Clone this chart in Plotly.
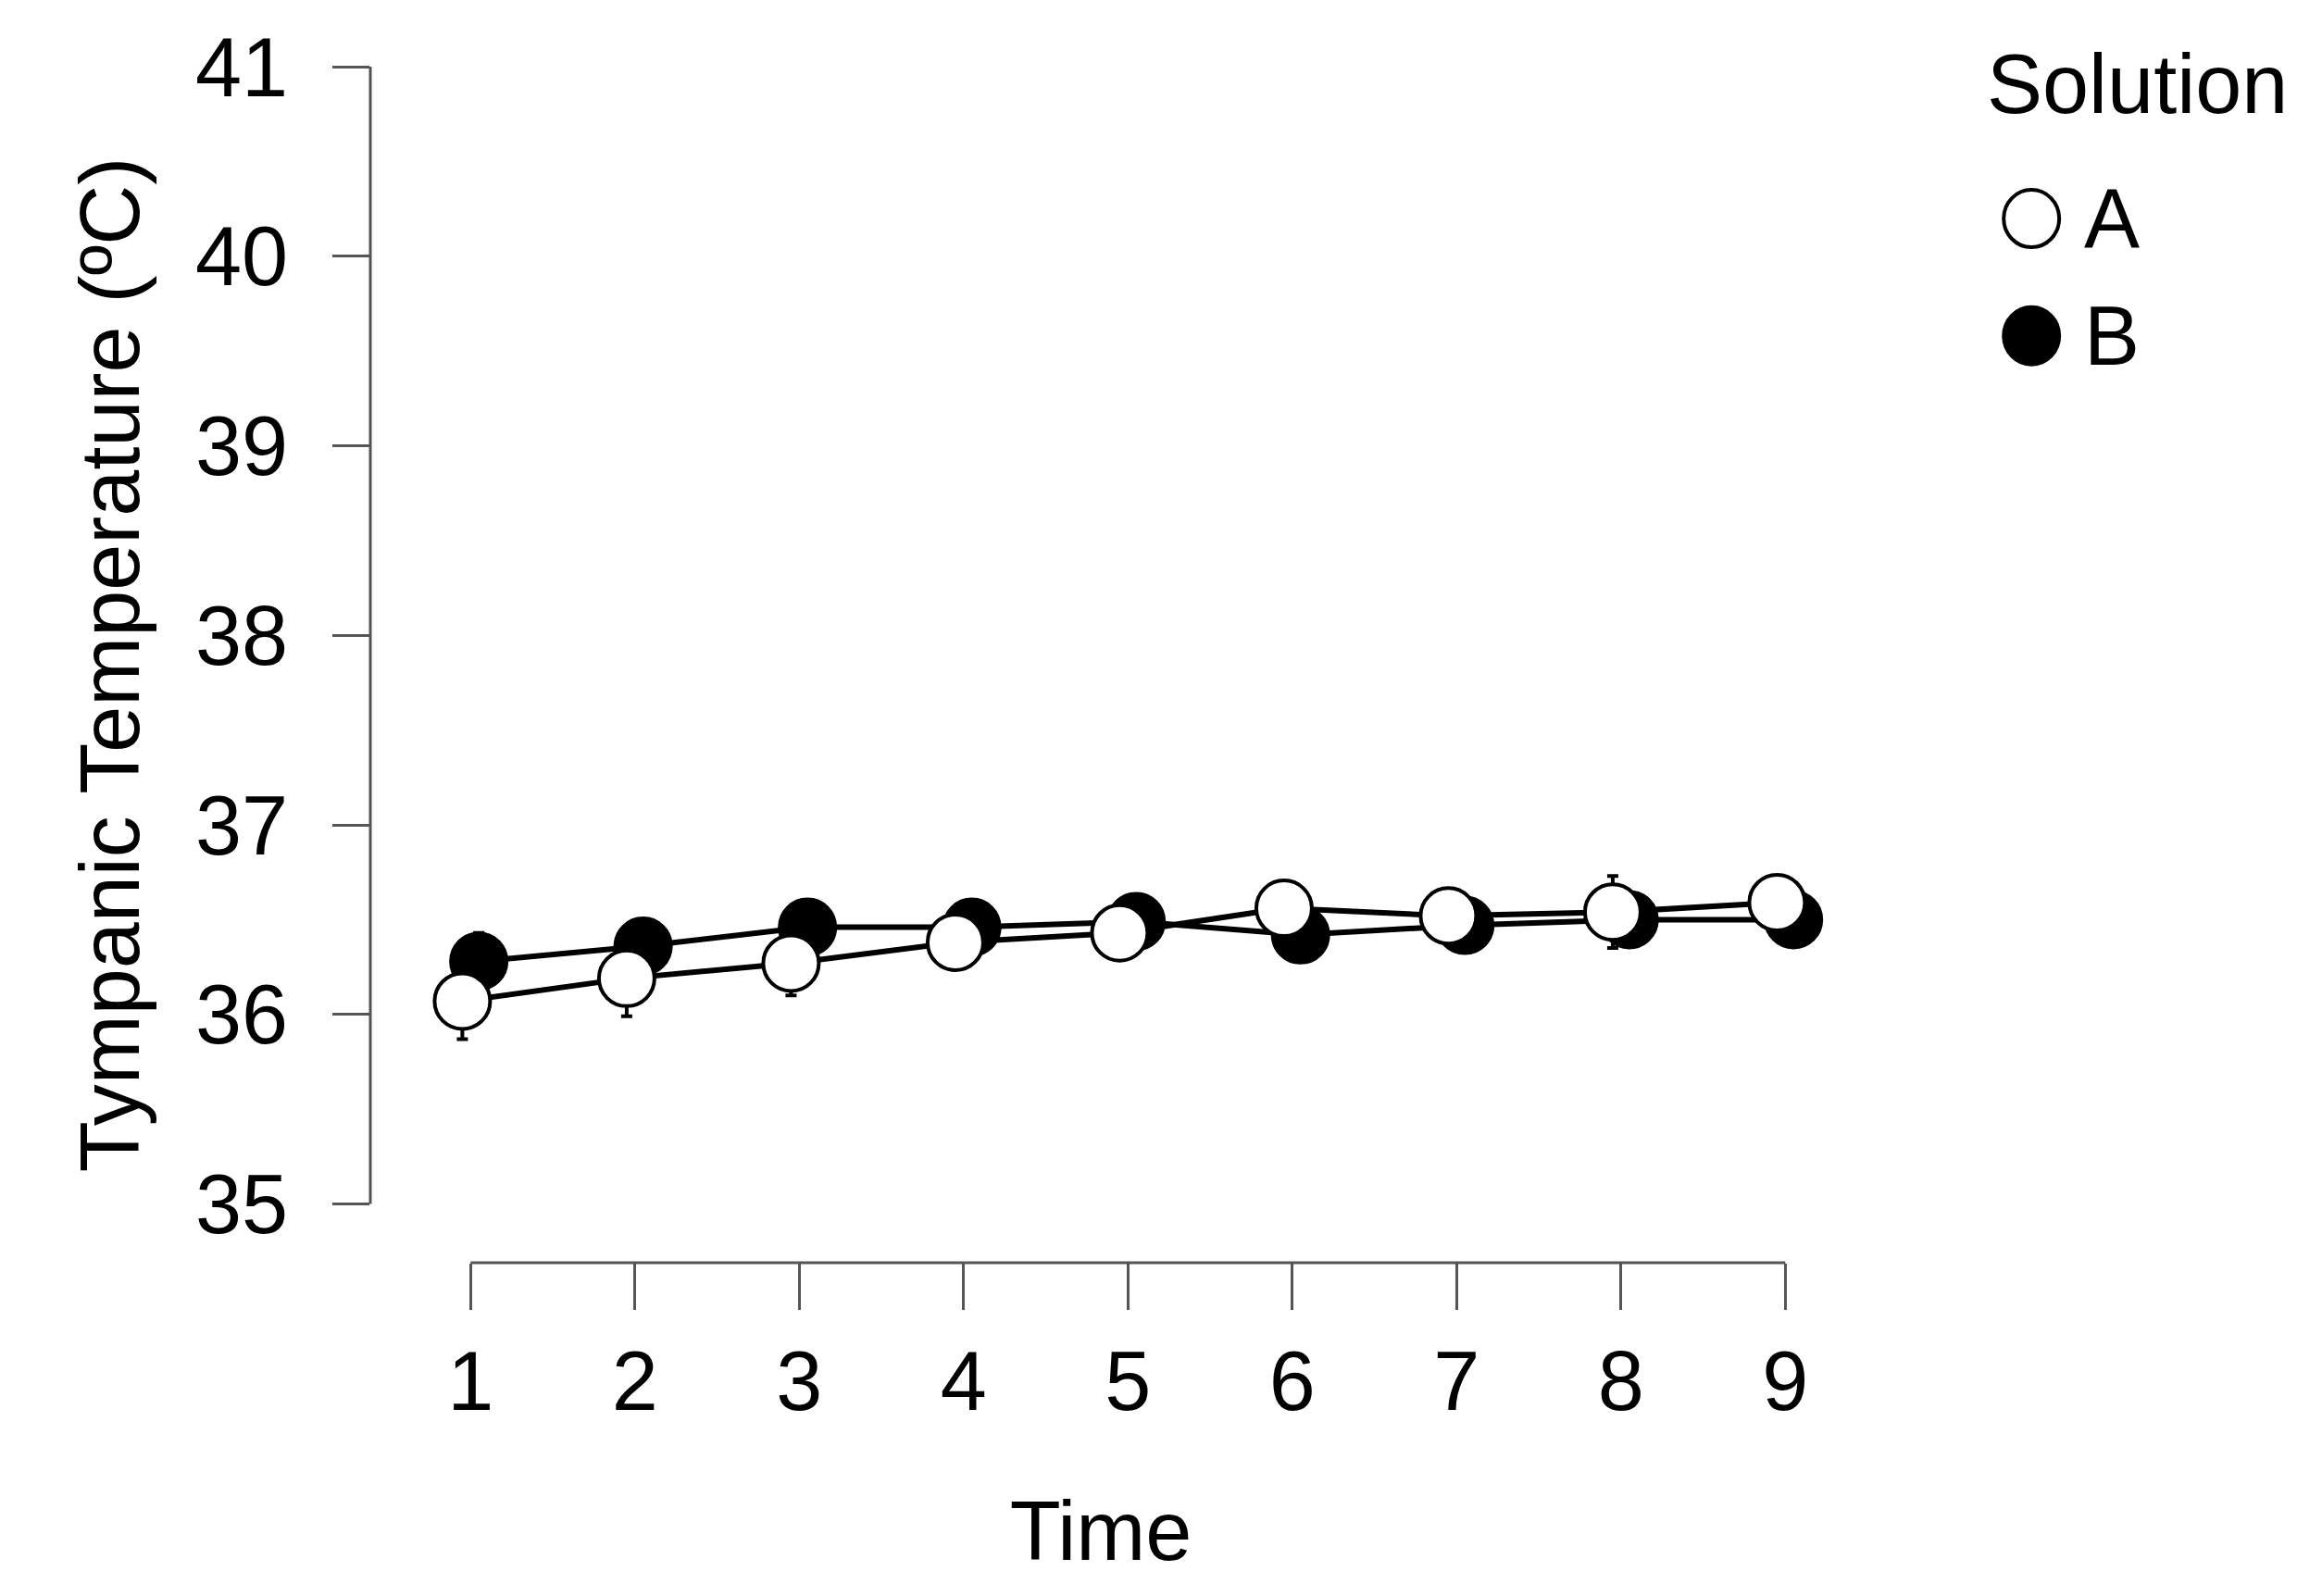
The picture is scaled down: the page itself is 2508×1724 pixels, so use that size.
import plotly.graph_objects as go

time = [1, 2, 3, 4, 5, 6, 7, 8, 9]
a_mean = [36.07, 36.19, 36.27, 36.38, 36.43, 36.56, 36.52, 36.54, 36.59]
a_se = [0.20, 0.20, 0.17, 0.05, 0.10, 0.12, 0.12, 0.19, 0.06]
b_mean = [36.28, 36.36, 36.46, 36.46, 36.49, 36.42, 36.47, 36.50, 36.50]
b_se = [0.15, 0.14, 0.14, 0.10, 0.10, 0.08, 0.07, 0.12, 0.06]
dodge = 0.05

fig = go.Figure()
fig.add_trace(go.Scatter(
    x=[t + dodge for t in time], y=b_mean, mode="lines+markers", name="B",
    error_y=dict(type="data", array=b_se, color="black", thickness=4, width=6),
    line=dict(color="black", width=6),
    marker=dict(symbol="circle", size=60, color="black", line=dict(color="black", width=4)),
))
fig.add_trace(go.Scatter(
    x=[t - dodge for t in time], y=a_mean, mode="lines+markers", name="A",
    error_y=dict(type="data", array=a_se, color="black", thickness=4, width=6),
    line=dict(color="black", width=6),
    marker=dict(symbol="circle", size=60, color="white", line=dict(color="black", width=4)),
))

font = "Liberation Sans, Arial, sans-serif"
fig.update_layout(
    width=2508, height=1724, showlegend=False,
    plot_bgcolor="white", paper_bgcolor="white",
    margin=dict(l=392, r=538, t=64, b=368),
    font=dict(family=font, size=90, color="black"),
    xaxis=dict(range=[0.39, 9.28], tickvals=time, ticks="outside", ticklen=50,
               tickwidth=3, tickcolor="#555", showgrid=False, zeroline=False,
               showline=False, tickfont=dict(size=90),
               title=dict(text="Time", font=dict(size=90), standoff=80)),
    yaxis=dict(range=[34.69, 41], tickvals=[35, 36, 37, 38, 39, 40, 41], ticks="outside",
               ticklen=40, tickwidth=3, tickcolor="#555", showgrid=False, zeroline=False,
               showline=False, tickfont=dict(size=90), ticklabelstandoff=30,
               title=dict(text="Tympanic Temperature (ºC)", font=dict(size=90), standoff=30)),
)
fig.add_shape(type="line", xref="paper", yref="y", x0=0, x1=0, y0=35, y1=41,
              line=dict(color="#555", width=3))
fig.add_shape(type="line", xref="x", yref="paper", x0=1, x1=9, y0=0, y1=0,
              line=dict(color="#555", width=3))

# legend
fig.add_annotation(xref="paper", yref="paper", x=1.105, y=0.985, xanchor="left", yanchor="middle",
                   text="Solution", showarrow=False, font=dict(size=90))
for lab, yy, col in [("A", 0.873, "white"), ("B", 0.775, "black")]:
    fig.add_shape(type="circle", xref="paper", yref="paper", x0=1.118, x1=1.156,
                  y0=yy - 0.024, y1=yy + 0.024, fillcolor=col, line=dict(color="black", width=4))
    fig.add_annotation(xref="paper", yref="paper", x=1.172, y=yy, xanchor="left", yanchor="middle",
                       text=lab, showarrow=False, font=dict(size=90))

fig.write_html("out.html")
